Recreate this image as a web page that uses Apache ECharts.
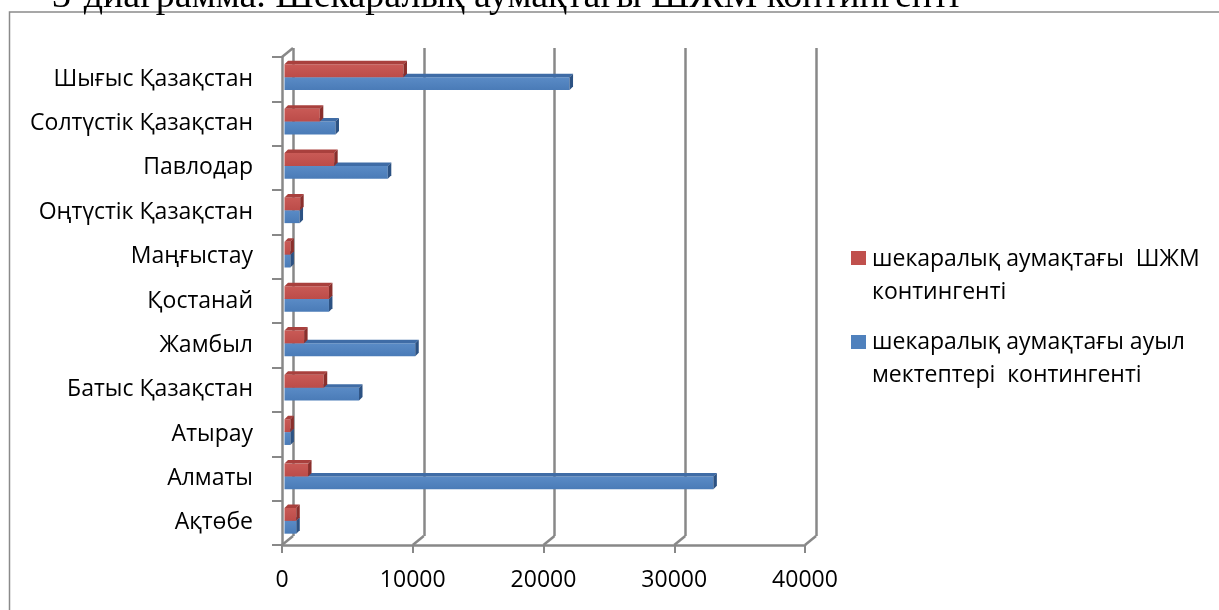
<!DOCTYPE html>
<html>
<head>
<meta charset="utf-8">
<script src="https://cdn.jsdelivr.net/npm/echarts@6/dist/echarts.min.js"></script>
<style>
html,body{margin:0;padding:0;background:#fff;}
#chart{width:1219px;height:610px;}
</style>
</head>
<body>
<div id="chart"></div>
<script>
// ---- data ----
var categories = ['Ақтөбе','Алматы','Атырау','Батыс Қазақстан','Жамбыл','Қостанай','Маңғыстау','Оңтүстік Қазақстан','Павлодар','Солтүстік Қазақстан','Шығыс Қазақстан'];
var ruralSchools = [900, 32800, 450, 5700, 10000, 3400, 450, 1150, 7900, 3900, 21800];   // шекаралық аумақтағы ауыл мектептері контингенті
var smallSchools = [900, 1800, 450, 3000, 1500, 3400, 450, 1200, 3800, 2700, 9100];      // шекаралық аумақтағы ШЖМ контингенті
var xTicks = [0, 10000, 20000, 30000, 40000];
var seriesNames = ['шекаралық аумақтағы  ШЖМ\nконтингенті', 'шекаралық аумақтағы ауыл\nмектептері  контингенті'];
var titleText = '3-диаграмма. Шекаралық аумақтағы ШЖМ контингенті';

var FONT = '"Open Sans", "Noto Sans", sans-serif';
var GRID = '#888888';
var DX = 11, DY = -9;

function toPairs(arr){ return arr.map(function(v,i){ return [v,i]; }); }

function bar3D(face, top, side, upper){
  return function(params, api){
    var v = api.value(0), idx = api.value(1);
    var s = api.coord([0, idx]);
    var e = api.coord([v, idx]);
    var B = api.size([0, 1])[1];
    var h = B * 0.29;
    var d = 3.5;
    var c = s[1];
    var yTop = upper ? c - 2 - h : c - 2;
    var x0 = s[0] + 2.5;
    var x1 = Math.max(e[0] + 2.5, x0 + 2);
    return {
      type: 'group',
      children: [
        { type: 'rect', shape: { x: x0, y: yTop, width: x1 - x0, height: h },
          style: { fill: face } },
        { type: 'polygon', shape: { points: [[x0, yTop],[x0 + d, yTop - d],[x1 + d, yTop - d],[x1, yTop]] },
          style: { fill: top } },
        { type: 'polygon', shape: { points: [[x1, yTop],[x1 + d, yTop - d],[x1 + d, yTop + h - d],[x1, yTop + h]] },
          style: { fill: side } }
      ]
    };
  };
}

function floorLines(params, api){
  var v = api.value(0);
  var p = api.coord([v, 0]);
  var cs = params.coordSys;
  var yb = cs.y + cs.height;
  var children = [
    { type: 'line', shape: { x1: p[0], y1: yb, x2: p[0] + DX, y2: yb + DY },
      style: { stroke: GRID, lineWidth: 2.5 } }
  ];
  if (v === xTicks[0]) {
    children.push({ type: 'line', shape: { x1: p[0], y1: cs.y, x2: p[0] + DX, y2: cs.y + DY },
      style: { stroke: GRID, lineWidth: 2.5 } });
  }
  return { type: 'group', children: children };
}

var chart = echarts.init(document.getElementById('chart'), null, { renderer: 'canvas' });

var blueFace = new echarts.graphic.LinearGradient(0,0,0,1,[{offset:0,color:'#5a8bc6'},{offset:1,color:'#4a7bb7'}]);
var redFace = new echarts.graphic.LinearGradient(0,0,0,1,[{offset:0,color:'#c95a56'},{offset:1,color:'#bc4c49'}]);

var option = {
  backgroundColor: '#ffffff',
  animation: false,
  grid: [
    { left: 282, top: 57, width: 523, height: 488, containLabel: false },
    { left: 282 + DX, top: 57 + DY, width: 523, height: 488, containLabel: false }
  ],
  xAxis: [
    { type: 'value', gridIndex: 0, min: xTicks[0], max: xTicks[xTicks.length-1], interval: 10000,
      axisLine: { show: true, lineStyle: { color: GRID, width: 2.5 } },
      axisTick: { show: true, length: 8, lineStyle: { color: GRID, width: 2 } },
      splitLine: { show: false },
      axisLabel: { color: '#000', fontFamily: FONT, fontSize: 23, margin: 24, formatter: function(v){ return String(v); } }
    },
    { type: 'value', gridIndex: 1, min: xTicks[0], max: xTicks[xTicks.length-1], interval: 10000,
      axisLine: { show: false }, axisTick: { show: false }, axisLabel: { show: false },
      splitLine: { show: true, lineStyle: { color: GRID, width: 2.5 } }
    }
  ],
  yAxis: [
    { type: 'category', gridIndex: 0, data: categories,
      axisLine: { show: true, lineStyle: { color: GRID, width: 2.5 } },
      axisTick: { show: true, length: 10, lineStyle: { color: GRID, width: 2 } },
      splitLine: { show: false },
      axisLabel: { color: '#000', fontFamily: FONT, fontSize: 23, margin: 29, interval: 0, padding: [6, 0, 0, 0] }
    },
    { type: 'category', gridIndex: 1, data: categories, show: false }
  ],
  series: [
    { type: 'custom', name: 'floor', xAxisIndex: 0, yAxisIndex: 0, silent: true,
      renderItem: floorLines, data: xTicks.map(function(t){ return [t]; }), encode: { x: 0 } },
    { type: 'custom', name: seriesNames[1], xAxisIndex: 0, yAxisIndex: 0, silent: true,
      renderItem: bar3D(blueFace, '#3f6ca6', '#2c5283', false), data: toPairs(ruralSchools),
      encode: { x: 0, y: 1 } },
    { type: 'custom', name: seriesNames[0], xAxisIndex: 0, yAxisIndex: 0, silent: true,
      renderItem: bar3D(redFace, '#a9403d', '#8a2f2c', true), data: toPairs(smallSchools),
      encode: { x: 0, y: 1 } }
  ],
  graphic: [
    { type: 'rect', silent: true, shape: { x: 9.5, y: 12, width: 1400, height: 800 },
      style: { fill: 'none', stroke: '#8a8a8a', lineWidth: 1.5 }, z: 0 },
    { type: 'text', silent: true, x: 52, y: -3,
      style: { text: titleText, fill: '#000', font: '38px "Liberation Serif", "Times New Roman", serif', verticalAlign: 'middle' } },
    { type: 'rect', silent: true, shape: { x: 851, y: 251, width: 15, height: 14 }, style: { fill: '#c0504d' } },
    { type: 'text', silent: true, x: 872, y: 242.5,
      style: { text: seriesNames[0], fill: '#000', font: '23px ' + FONT, lineHeight: 33, verticalAlign: 'top' } },
    { type: 'rect', silent: true, shape: { x: 851, y: 335, width: 15, height: 14 }, style: { fill: '#4f81bd' } },
    { type: 'text', silent: true, x: 872, y: 325.5,
      style: { text: seriesNames[1], fill: '#000', font: '23px ' + FONT, lineHeight: 33, verticalAlign: 'top' } }
  ]
};
chart.setOption(option);
</script>
</body>
</html>
